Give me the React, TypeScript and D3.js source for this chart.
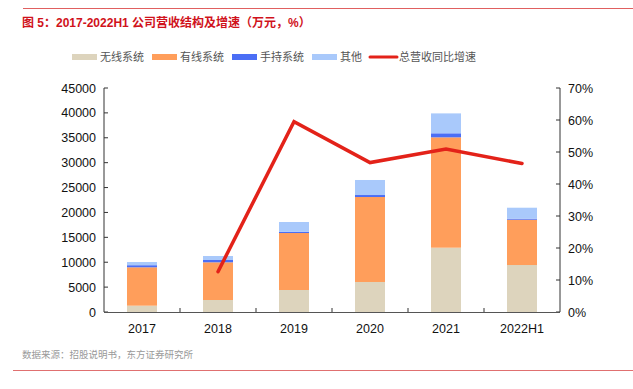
import React from "react";
import * as d3 from "d3";

const categories = ["2017", "2018", "2019", "2020", "2021", "2022H1"];
const wireless = [1270, 2410, 4420, 6030, 12920, 9440];
const wired = [7710, 7570, 11450, 17070, 22170, 9100];
const handheld = [420, 470, 260, 400, 810, 200];
const others = [640, 800, 1950, 3020, 4000, 2210];
const growth: (number | null)[] = [null, 12.6, 59.5, 46.7, 50.9, 46.4];
const leftTicks = [0, 5000, 10000, 15000, 20000, 25000, 30000, 35000, 40000, 45000];
const rightTicks = [0, 10, 20, 30, 40, 50, 60, 70];

const seriesNames = ["无线系统", "有线系统", "手持系统", "其他"];
const seriesColors = ["#ddd4bd", "#ff9e5b", "#4b6ef5", "#a9c9fb"];
const lineName = "总营收同比增速";
const lineColor = "#e32219";

export default function App() {
  const W = 633, H = 389;
  const left = 104, right = 560, top = 88, bottom = 312;
  const xb = d3.scaleBand().domain(categories).range([left, right]);
  const y = d3.scaleLinear().domain([0, 45000]).range([bottom, top]);
  const y2 = d3.scaleLinear().domain([0, 70]).range([bottom, top]);
  const rows = categories.map((c, i) => ({ c, s0: wireless[i], s1: wired[i], s2: handheld[i], s3: others[i] }));
  const stack = d3.stack<any>().keys(["s0", "s1", "s2", "s3"])(rows);
  const bw = 30;
  const linePts = categories.map((c, i) => ({ c, v: growth[i] })).filter(d => d.v !== null) as { c: string; v: number }[];
  const line = d3.line<{ c: string; v: number }>()
    .x(d => (xb(d.c) as number) + xb.bandwidth() / 2)
    .y(d => y2(d.v));
  const font = "'Liberation Sans', Arial, 'Noto Sans CJK SC', sans-serif";
  const cjk = "'Noto Sans CJK SC', sans-serif";
  const legendItems = [
    { x: 72, tx: 100, name: seriesNames[0], color: seriesColors[0], line: false },
    { x: 152, tx: 180, name: seriesNames[1], color: seriesColors[1], line: false },
    { x: 232, tx: 260, name: seriesNames[2], color: seriesColors[2], line: false },
    { x: 312, tx: 340, name: seriesNames[3], color: seriesColors[3], line: false },
    { x: 370, tx: 399, name: lineName, color: lineColor, line: true },
  ];
  return (
    <svg width={W} height={H} style={{ position: "absolute", left: 0, top: 0, background: "#fff" }} fontFamily={font}>
      <line x1={23} x2={633} y1={8.5} y2={8.5} stroke="#e06060" strokeWidth={1} />
      <text x={22} y={27} fill="#d0121b" fontSize={12} fontWeight="bold" fontFamily={font}>
        图 5：2017-2022H1 公司营收结构及增速（万元，%）
      </text>
      {legendItems.map((l, i) => (
        <g key={i}>
          {l.line ? (
            <line x1={l.x} x2={l.x + 27} y1={57} y2={57} stroke={l.color} strokeWidth={3} strokeLinecap="round" />
          ) : (
            <rect x={l.x} y={54} width={25} height={6} fill={l.color} />
          )}
          <text x={l.tx} y={61} fontSize={11} fill="#555" fontFamily={cjk}>{l.name}</text>
        </g>
      ))}
      {stack.map((layer, si) => (
        <g key={si} fill={seriesColors[si]}>
          {layer.map((d, i) => {
            const cx = (xb(categories[i]) as number) + xb.bandwidth() / 2;
            return <rect key={i} x={cx - bw / 2} y={y(d[1])} width={bw} height={y(d[0]) - y(d[1])} />;
          })}
        </g>
      ))}
      <line x1={left} x2={left} y1={top} y2={bottom} stroke="#333" />
      {leftTicks.map(t => (
        <g key={t}>
          <line x1={left} x2={left + 4} y1={y(t)} y2={y(t)} stroke="#333" />
          <text x={left - 8} y={y(t) + 4.5} textAnchor="end" fontSize={12.5} fill="#111">{t}</text>
        </g>
      ))}
      <line x1={right} x2={right} y1={top} y2={bottom} stroke="#333" />
      {rightTicks.map(t => (
        <g key={t}>
          <line x1={right - 4} x2={right} y1={y2(t)} y2={y2(t)} stroke="#333" />
          <text x={right + 8} y={y2(t) + 4.5} fontSize={12.5} fill="#111">{t}%</text>
        </g>
      ))}
      <line x1={left} x2={right} y1={bottom + 0.5} y2={bottom + 0.5} stroke="#555" strokeWidth={1.2} />
      {categories.map((c, i) => (
        <g key={c}>
          {i > 0 && <line x1={xb(c) as number} x2={xb(c) as number} y1={bottom} y2={bottom - 4} stroke="#333" />}
          <text x={(xb(c) as number) + xb.bandwidth() / 2} y={bottom + 21} textAnchor="middle" fontSize={12.5} fill="#111">{c}</text>
        </g>
      ))}
      <path d={line(linePts) || ""} fill="none" stroke={lineColor} strokeWidth={3.5} strokeLinejoin="miter" strokeLinecap="round" />
      <text x={22} y={358} fontSize={9.5} fill="#999" fontFamily={cjk}>数据来源：招股说明书，东方证券研究所</text>
      <line x1={13} x2={633} y1={370.5} y2={370.5} stroke="#e07070" strokeWidth={1.2} />
    </svg>
  );
}
